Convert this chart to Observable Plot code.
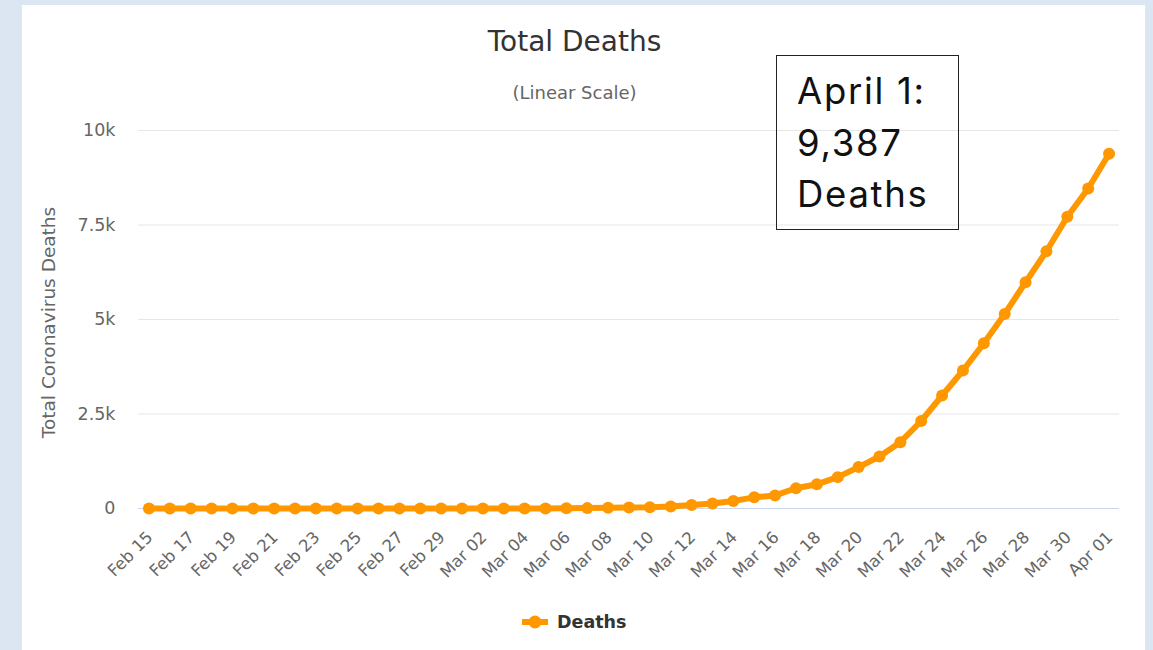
<!DOCTYPE html>
<html>
<head>
<meta charset="utf-8">
<script src="https://cdn.jsdelivr.net/npm/d3@7"></script>
<script src="https://cdn.jsdelivr.net/npm/@observablehq/plot@0.6"></script>
<style>
  html, body { margin: 0; padding: 0; background: #dce6f2; width: 1153px; height: 650px; overflow: hidden; font-family: "DejaVu Sans", sans-serif; }
  #panel { position: absolute; left: 22px; top: 5px; width: 1123px; height: 645px; background: #fff; }
  #title { position: absolute; left: 0; width: 1105px; top: 23px; text-align: center; font-size: 28px; line-height: 28px; color: #333; }
  #subtitle { position: absolute; left: 0; width: 1105px; top: 79px; text-align: center; font-size: 18px; line-height: 18px; color: #666; }
  #chart { position: absolute; left: 0; top: 105px; }
  #legend { position: absolute; left: 500px; top: 606px; height: 22px; display: flex; align-items: center; }
  #legend span { font-weight: bold; font-size: 17.5px; color: #333; margin-left: 9px; }
  #note { position: absolute; left: 754px; top: 50px; width: 181px; height: 173px; border: 1.5px solid #222; box-sizing: content-box; font-family: "Inter", sans-serif; font-size: 36.5px; line-height: 51.5px; letter-spacing: 1.7px; color: #111; padding: 0; }
  #note div { padding-left: 20px; }
  #note .first { margin-top: 10px; }
</style>
</head>
<body>
<div id="panel">
  <div id="title">Total Deaths</div>
  <div id="subtitle">(Linear Scale)</div>
  <div id="chart"></div>
  <div id="legend">
    <svg width="26" height="14" viewBox="0 0 26 14"><line x1="0" y1="7" x2="26" y2="7" stroke="#ff9800" stroke-width="6"/><circle cx="13" cy="7" r="6.5" fill="#ff9800"/></svg>
    <span>Deaths</span>
  </div>
  <div id="note"><div class="first">April 1:</div><div>9,387</div><div>Deaths</div></div>
</div>
<script>
const dates = [
  "Feb 15","Feb 16","Feb 17","Feb 18","Feb 19","Feb 20","Feb 21","Feb 22","Feb 23","Feb 24",
  "Feb 25","Feb 26","Feb 27","Feb 28","Feb 29","Mar 01","Mar 02","Mar 03","Mar 04","Mar 05",
  "Mar 06","Mar 07","Mar 08","Mar 09","Mar 10","Mar 11","Mar 12","Mar 13","Mar 14","Mar 15",
  "Mar 16","Mar 17","Mar 18","Mar 19","Mar 20","Mar 21","Mar 22","Mar 23","Mar 24","Mar 25",
  "Mar 26","Mar 27","Mar 28","Mar 29","Mar 30","Mar 31","Apr 01"
];
const deaths = [
  0, 0, 0, 0, 0, 0, 0, 0, 0, 0,
  0, 0, 0, 0, 0, 0, 0, 1, 2, 3,
  5, 10, 17, 28, 35, 55, 90, 135, 200, 295,
  345, 535, 640, 830, 1095, 1375, 1755, 2315, 2990, 3650,
  4370, 5145, 5985, 6805, 7720, 8465, 9387
];
const xTickLabels = dates.filter((d, i) => i % 2 === 0);
const yTicks = [0, 2500, 5000, 7500, 10000];
const yTickLabels = ["0", "2.5k", "5k", "7.5k", "10k"];
const yTitle = "Total Coronavirus Deaths";
const lineColor = "#ff9800";

const data = dates.map((d, i) => ({date: d, deaths: deaths[i]}));

const chart = Plot.plot({
  width: 1123,
  height: 530,
  marginTop: 20,
  marginBottom: 132,
  marginLeft: 116,
  marginRight: 26,
  style: {fontFamily: "DejaVu Sans, sans-serif", fontSize: "16px", color: "#666", background: "transparent", overflow: "visible"},
  x: {type: "point", domain: dates, padding: 0.5},
  y: {domain: [0, 10000]},
  marks: [
    Plot.gridY(yTicks, {stroke: "#e6e6e6", strokeOpacity: 1}),
    Plot.ruleY([0], {stroke: "#ccd6eb"}),
    Plot.axisY(yTicks, {tickSize: 0, tickPadding: 23, tickFormat: d => yTickLabels[yTicks.indexOf(d)], fontSize: 17.5, label: null, fill: "#666"}),
    Plot.axisX(xTickLabels, {tickSize: 0, tickPadding: 26, tickRotate: -45, fontSize: 16.5, label: null, fill: "#666", dx: 1}),
    Plot.text([yTitle], {frameAnchor: "left", rotate: -90, textAnchor: "middle", dx: -89, dy: 3, fontSize: 18.5, fill: "#666"}),
    Plot.line(data, {x: "date", y: "deaths", stroke: lineColor, strokeWidth: 6}),
    Plot.dot(data, {x: "date", y: "deaths", r: 6, fill: lineColor})
  ]
});
document.getElementById("chart").appendChild(chart);
</script>
</body>
</html>
